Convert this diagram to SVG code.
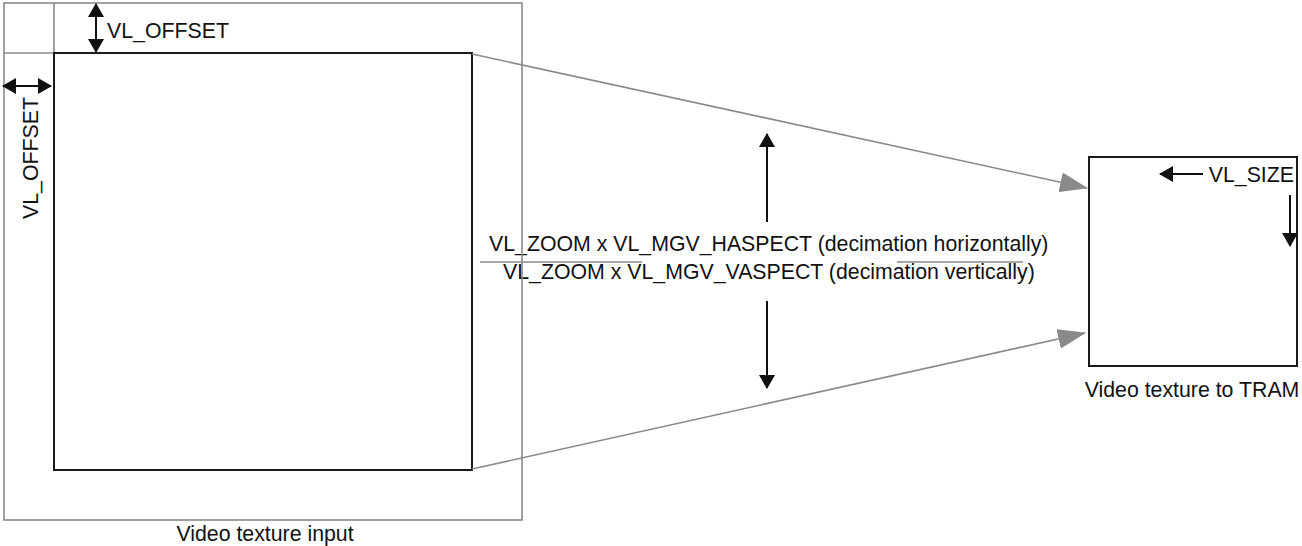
<svg xmlns="http://www.w3.org/2000/svg" width="1302" height="546" viewBox="0 0 1302 546">
<defs>
<style>
text{font-family:"Liberation Sans",Arial,sans-serif;font-size:21.3px;fill:#111}
.gray{fill:none;stroke:#8a8a8a;stroke-width:1.6}
.blk{fill:none;stroke:#1a1a1a;stroke-width:2}
.ln{stroke:#111;stroke-width:2;fill:none}
</style>
<marker id="ah" viewBox="0 0 14 16" refX="13" refY="8" markerWidth="14" markerHeight="16" markerUnits="userSpaceOnUse" orient="auto-start-reverse"><path d="M0,0 L14,8 L0,16 Z" fill="#111"/></marker>
<marker id="ag" viewBox="0 0 28 20" refX="27" refY="10" markerWidth="28" markerHeight="20" markerUnits="userSpaceOnUse" orient="auto"><path d="M0,0 L28,10 L0,20 Z" fill="#8a8a8a"/></marker>
</defs>
<g id="ratio-label">
<text x="489" y="251">VL_ZOOM x VL_MGV_HASPECT (decimation horizontally)</text>
<text x="503" y="279">VL_ZOOM x VL_MGV_VASPECT (decimation vertically)</text>
<line class="gray" x1="480" y1="262" x2="642" y2="262"/>
<line class="gray" x1="897" y1="262" x2="1023" y2="262"/>
</g>
<g id="video-texture-input">
<rect class="gray" x="4" y="3" width="518" height="517"/>
<line class="gray" x1="54" y1="3" x2="54" y2="53"/>
<line class="gray" x1="4" y1="53" x2="54" y2="53"/>
<rect class="blk" x="54" y="53" width="418" height="417"/>
<text x="265" y="541" text-anchor="middle">Video texture input</text>
</g>
<g id="offset-top">
<line class="ln" x1="96" y1="4" x2="96" y2="52" marker-start="url(#ah)" marker-end="url(#ah)"/>
<text x="107" y="38">VL_OFFSET</text>
</g>
<g id="offset-left">
<line class="ln" x1="3" y1="86" x2="51" y2="86" marker-start="url(#ah)" marker-end="url(#ah)"/>
<text transform="translate(38,219) rotate(-90)">VL_OFFSET</text>
</g>
<g id="video-texture-tram">
<rect class="blk" x="1089" y="157" width="208" height="209"/>
<text x="1192" y="397" text-anchor="middle">Video texture to TRAM</text>
<text x="1294" y="182" text-anchor="end">VL_SIZE</text>
<line class="ln" x1="1203" y1="174" x2="1160" y2="174" marker-end="url(#ah)"/>
<line class="ln" x1="1290" y1="195" x2="1290" y2="246" marker-end="url(#ah)"/>
</g>
<g id="connectors">
<line class="gray" x1="472" y1="54" x2="1087" y2="188" marker-end="url(#ag)"/>
<line class="gray" x1="472" y1="469" x2="1085" y2="333" marker-end="url(#ag)"/>
<line class="ln" x1="767" y1="222" x2="767" y2="134" marker-end="url(#ah)"/>
<line class="ln" x1="767" y1="301" x2="767" y2="388" marker-end="url(#ah)"/>
</g>
</svg>
